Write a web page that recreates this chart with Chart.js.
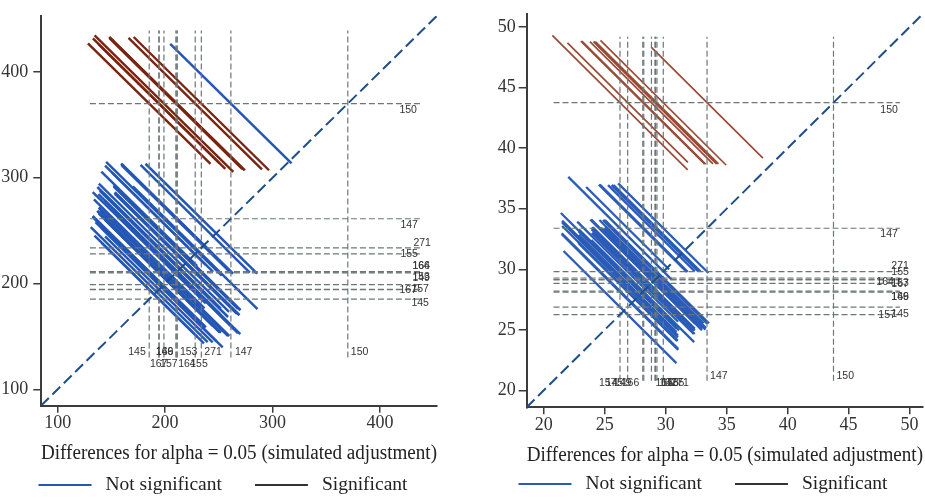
<!DOCTYPE html>
<html>
<head>
<meta charset="utf-8">
<script src="https://cdn.jsdelivr.net/npm/chart.js@4.4.1/dist/chart.umd.min.js"></script>
<style>
  html, body { margin: 0; padding: 0; background: #fff; }
  #wrap { position: relative; width: 925px; height: 498px; overflow: hidden; }
  .pane { position: absolute; top: 0; height: 498px; }
  #p1 { left: 0; width: 460px; }
  #p2 { left: 460px; width: 465px; }
</style>
</head>
<body>
<div id="wrap">
  <div class="pane" id="p1"><canvas id="left" width="460" height="498"></canvas></div>
  <div class="pane" id="p2"><canvas id="right" width="465" height="498"></canvas></div>
</div>
<script>
// group labels (same order in both panels)
const groups = ['145', '147', '149', '150', '153', '155', '157', '164', '166', '167', '271'];

// left panel: LS-means and CI half-width contribution per group
const leftMeans = [185.2, 261.2, 198.9, 370.0, 211.0, 228.0, 194.4, 211.2, 210.0, 194.2, 233.7];
const leftHalf = [32, 31, 44, 47.2, 41.7, 40.3, 39.6, 41.7, 40, 30.6, 41.7];
const leftTicks = [100, 200, 300, 400];

// right panel
const rightMeans = [26.88, 33.39, 28.12, 43.76, 29.16, 29.28, 26.25, 28.83, 28.2, 29.12, 29.8];
const rightHalf = [2.74, 2.02, 2.98, 4.11, 2.93, 2.93, 3.73, 2.93, 2.98, 2.93, 3.1];
const rightTicks = [20, 25, 30, 35, 40, 45, 50];

const axisTitle = 'Differences for alpha = 0.05 (simulated adjustment)';
const legendText = ['Not significant', 'Significant'];

Chart.defaults.font.family = '"Liberation Serif", serif';

const refColor = '#6c7676';
const diagColor = '#1d4f8a';

const panels = [
  {
    canvas: 'left', means: leftMeans, half: leftHalf, ticks: leftTicks,
    range: [84.5, 453], ref: [130, 439],
    pad: { top: 7, right: 23, bottom: 32, left: 0 }, yWidth: 41, xHeight: 60.3,
    yTickPad: 5, yTickLen: 7.7,
    ns: '#2457b5', nsWidth: 2.5, sig: '#7a2410', sigWidth: 2.4,
    hDx: [7, -4, 8, -5, 8, -4, 7, 8, 8, -5, 9],
    hDy: [4, 6, -7, 6, 5, 0, 0, -6, -7, 0, -5],
    vDx: [-21, 4, -8, 3, 3, -5, 1, 1, -20, -9, 3],
    vRow: [0, 0, 0, 0, 0, 1, 1, 1, 0, 1, 0],
    rowY: [352, 364], legendY: 485, legendCx: 223
  },
  {
    canvas: 'right', means: rightMeans, half: rightHalf, ticks: rightTicks,
    range: [18.6, 51.1], ref: [20.8, 49.2],
    pad: { top: 11.7, right: 2, bottom: 30.5, left: 0 }, yWidth: 66.7, xHeight: 60.2,
    yTickPad: 3, yTickLen: 8,
    ns: '#2a5cb8', nsWidth: 2.3, sig: '#9a4a35', sigWidth: 1.7,
    hDx: [9, -2, 9, -2, 9, 9, -4, -6, 9, 9, 9],
    hDy: [7, 6, 5, 7, 4, -6, 0, -1, 6, 4, -6],
    vDx: [-22, 3, -29, 3, 6, 10, -21, 4, -22, 4, 8],
    vRow: [1, 0, 1, 0, 1, 1, 1, 1, 1, 1, 1],
    rowY: [375.7, 382.7], legendY: 484, legendCx: 243
  }
];

function buildDatasets(p) {
  const ds = [];
  const [lo, hi] = p.range;
  ds.push({ data: [{ x: lo, y: lo }, { x: hi, y: hi }], borderColor: diagColor, borderWidth: 2, borderDash: [11, 5], order: 0 });
  const [r0, r1] = p.ref;
  p.means.forEach(m => {
    ds.push({ data: [{ x: m, y: r0 }, { x: m, y: r1 }], borderColor: refColor, borderWidth: 1.2, borderDash: [6, 3], order: 1 });
    ds.push({ data: [{ x: r0, y: m }, { x: r1, y: m }], borderColor: refColor, borderWidth: 1.2, borderDash: [6, 3], order: 1 });
  });
  // one segment per pair: centred on (smaller mean, larger mean), slope -1
  for (let i = 0; i < p.means.length; i++) {
    for (let j = i + 1; j < p.means.length; j++) {
      let a = i, b = j;
      if (p.means[a] > p.means[b]) { a = j; b = i; }
      const h = Math.sqrt(p.half[a] ** 2 + p.half[b] ** 2);
      const sig = (p.means[b] - p.means[a]) / 2 > h;
      ds.push({
        data: [{ x: p.means[a] - h, y: p.means[b] + h }, { x: p.means[a] + h, y: p.means[b] - h }],
        borderColor: sig ? p.sig : p.ns,
        borderWidth: sig ? p.sigWidth : p.nsWidth,
        order: 2
      });
    }
  }
  ds.forEach(d => Object.assign(d, { showLine: true, pointRadius: 0, pointHoverRadius: 0, fill: false }));
  return ds;
}

function labelPlugin(p) {
  return {
    id: 'refLabels',
    afterDatasetsDraw(chart) {
      const { ctx, scales: { x, y } } = chart;
      ctx.save();
      ctx.font = '10.5px "Liberation Sans", Arial, sans-serif';
      ctx.fillStyle = '#333';
      ctx.textBaseline = 'middle';
      const right = x.getPixelForValue(p.ref[1]);
      groups.forEach((g, i) => {
        ctx.textAlign = 'right';
        ctx.fillText(g, right + p.hDx[i], y.getPixelForValue(p.means[i]) + p.hDy[i]);
        ctx.textAlign = 'left';
        ctx.fillText(g, x.getPixelForValue(p.means[i]) + p.vDx[i], p.rowY[p.vRow[i]]);
      });
      ctx.restore();
    }
  };
}

function legendPlugin(p) {
  return {
    id: 'diffLegend',
    afterDraw(chart) {
      const ctx = chart.ctx;
      ctx.save();
      ctx.font = '19.5px "Liberation Serif", serif';
      const lineLen = 53, gap = 14, itemGap = 33;
      const colors = [p.ns, '#333'];
      const widths = legendText.map(t => ctx.measureText(t).width);
      const total = widths.reduce((s, w) => s + lineLen + gap + w, 0) + itemGap;
      let cx = p.legendCx - total / 2;
      const yy = p.legendY;
      legendText.forEach((t, i) => {
        ctx.strokeStyle = colors[i];
        ctx.lineWidth = 2;
        ctx.beginPath();
        ctx.moveTo(cx, yy);
        ctx.lineTo(cx + lineLen, yy);
        ctx.stroke();
        ctx.fillStyle = '#222';
        ctx.textBaseline = 'middle';
        ctx.textAlign = 'left';
        ctx.fillText(t, cx + lineLen + gap, yy);
        cx += lineLen + gap + widths[i] + itemGap;
      });
      ctx.restore();
    }
  };
}

function makeChart(p) {
  const axisCommon = {
    type: 'linear',
    min: p.range[0],
    max: p.range[1],
    afterBuildTicks: s => { s.ticks = p.ticks.map(v => ({ value: v })); },
    border: { display: true, color: '#3c3c3c', width: 2 },
    ticks: { color: '#333', font: { size: 18 } }
  };
  new Chart(document.getElementById(p.canvas), {
    type: 'scatter',
    data: { datasets: buildDatasets(p) },
    options: {
      responsive: false,
      animation: false,
      events: [],
      layout: { padding: p.pad },
      scales: {
        x: {
          ...axisCommon,
          afterFit: s => { s.height = p.xHeight; },
          grid: { drawOnChartArea: false, drawTicks: true, tickLength: 7, color: '#3c3c3c', lineWidth: 1.5 },
          ticks: { ...axisCommon.ticks, padding: 0, maxRotation: 0 },
          title: { display: true, text: axisTitle, color: '#222', font: { size: 20 }, padding: { top: 0, bottom: 0 } }
        },
        y: {
          ...axisCommon,
          afterFit: s => { s.width = p.yWidth; },
          grid: { drawOnChartArea: false, drawTicks: true, tickLength: p.yTickLen, color: '#3c3c3c', lineWidth: 1.5 },
          ticks: { ...axisCommon.ticks, padding: p.yTickPad }
        }
      },
      plugins: { legend: { display: false }, tooltip: { enabled: false } }
    },
    plugins: [labelPlugin(p), legendPlugin(p)]
  });
}

panels.forEach(makeChart);
</script>
</body>
</html>
